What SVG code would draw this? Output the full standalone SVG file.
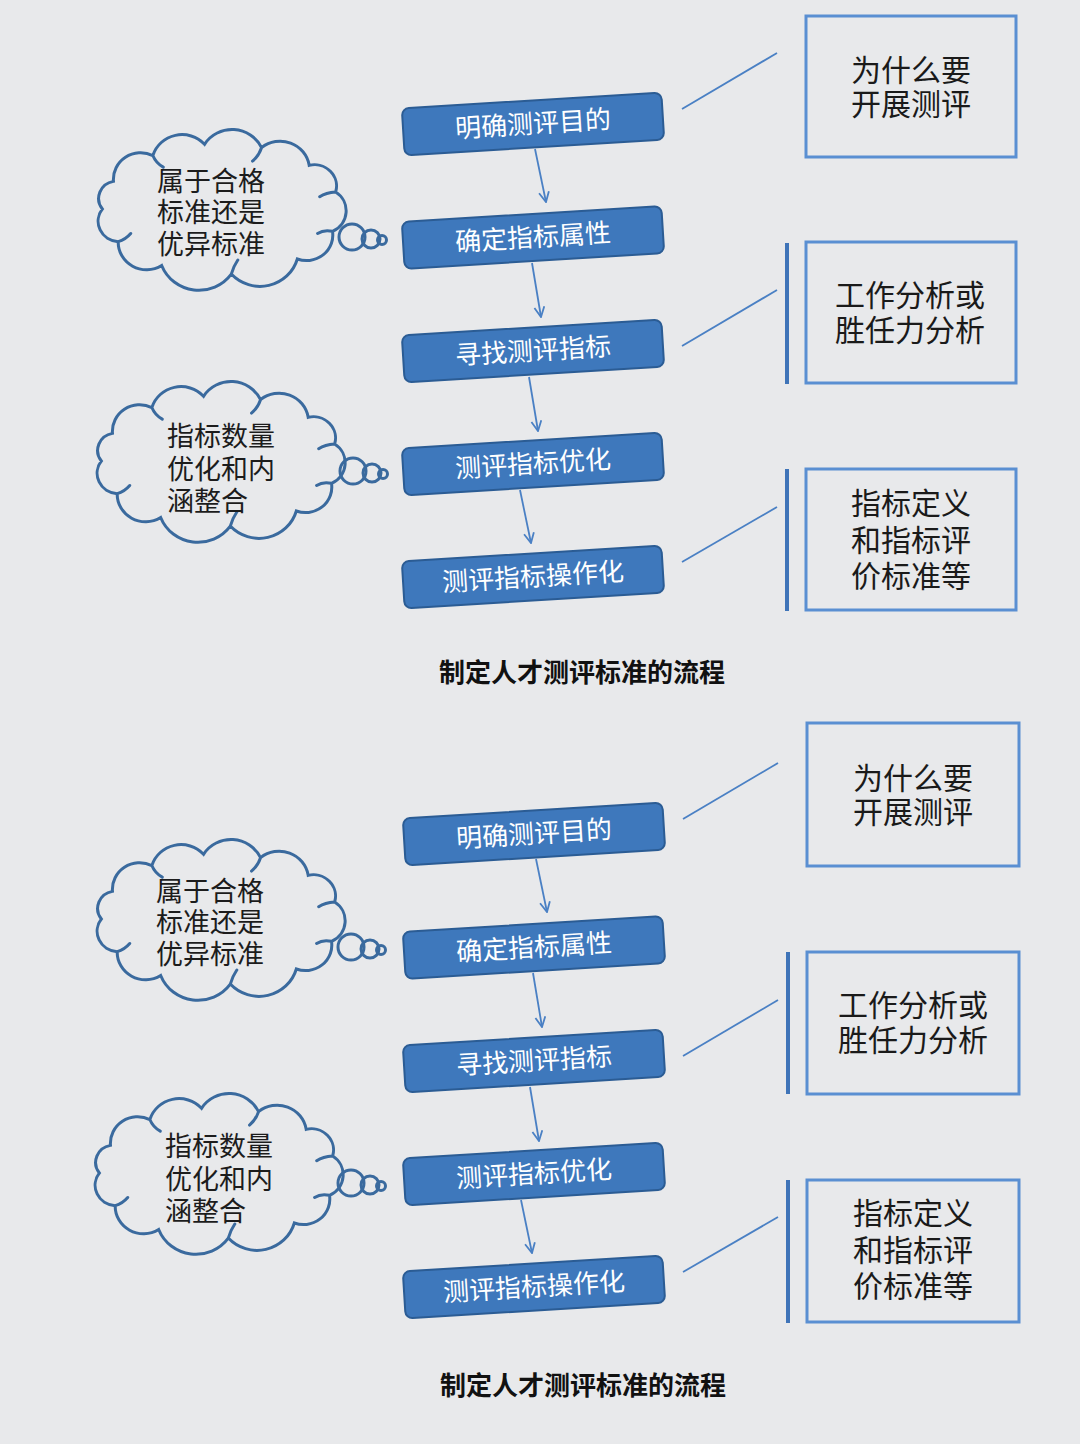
<svg xmlns="http://www.w3.org/2000/svg" xmlns:xlink="http://www.w3.org/1999/xlink" width="1080" height="1444" viewBox="0 0 1080 1444">
<style>
.cjk{font-family:"Noto Sans CJK SC","Noto Sans",sans-serif}
.step rect{fill:#3e78bc;stroke:#2b5c94;stroke-width:2}
.step text{fill:#ffffff;font-size:26px;text-anchor:middle}
.cloud circle{fill:none;stroke:#3a6a9e;stroke-width:3}
.cloud text{fill:#1c1c1c;font-size:27px}
.note rect{fill:none;stroke:#5a8fd2;stroke-width:3}
.note text{fill:#1a1a1a;font-size:30px;text-anchor:middle}
.bar{stroke:#3f74b8;stroke-width:4}
.conn line{stroke:#4a80c4;stroke-width:1.8;fill:none}
.title{fill:#111;font-size:26px;font-weight:bold;text-anchor:middle}
</style>
<defs>
<marker id="arr" viewBox="0 0 12 12" refX="11" refY="6" markerWidth="12" markerHeight="12" markerUnits="userSpaceOnUse" orient="auto">
<path d="M1,1 L11,6 L1,11" fill="none" stroke="#4a80c4" stroke-width="1.8"/>
</marker>
<path id="cloudShape" fill="none" stroke="#3a6a9e" stroke-width="3" stroke-linecap="round" vector-effect="non-scaling-stroke" d="M-113,0 A17,17 0 0 1 -102.4,-27.1 A26,26 0 0 1 -64.9,-52.4 A29,29 0 0 1 -15.7,-63.4 A31,31 0 0 1 38.6,-60.1 A28,28 0 0 1 84,-42.8 A21,21 0 0 1 109.2,-16.6 A22,22 0 0 1 106.2,21.9 A25,25 0 0 1 72.7,49 A37,37 0 0 1 9.8,63.8 A38,38 0 0 1 -56.5,55.4 A27,27 0 0 1 -97.9,32 A20,20 0 0 1 -113,0 Z M-64.9,-52.4 Q-62,-45 -55,-41 M38.6,-60.1 Q36,-52 30,-47 M109.2,-16.6 Q100,-16 94,-12 M106.2,21.9 Q98,20 92,24 M9.8,63.8 Q12,56 16,50 M-97.9,32 Q-91,30 -86,24"/>
</defs>
<rect x="0" y="0" width="1080" height="1444" fill="#e8e9eb"/>

<g id="top">
  <g id="top-connectors" class="conn">
    <line x1="535" y1="149" x2="546" y2="202" marker-end="url(#arr)"/>
    <line x1="532" y1="263" x2="541" y2="317" marker-end="url(#arr)"/>
    <line x1="529" y1="377" x2="538" y2="431" marker-end="url(#arr)"/>
    <line x1="520" y1="490" x2="531" y2="543" marker-end="url(#arr)"/>
    <line x1="682" y1="109" x2="777" y2="53"/>
    <line x1="682" y1="346" x2="777" y2="290"/>
    <line x1="682" y1="562" x2="777" y2="507"/>
  </g>
  <g id="top-cloud1" class="cloud">
    <g transform="translate(221,209)">
      <use xlink:href="#cloudShape" href="#cloudShape" transform="scale(1.05,1.02)"/>
      <circle cx="131" cy="28" r="13"/>
      <circle cx="150" cy="30" r="9"/>
      <circle cx="161" cy="31" r="4.5"/>
    </g>
    <text class="cjk"><tspan x="157" y="191">属于合格</tspan><tspan x="157" y="222">标准还是</tspan><tspan x="157" y="254">优异标准</tspan></text>
  </g>
  <g id="top-cloud2" class="cloud">
    <g transform="translate(220,461)">
      <use xlink:href="#cloudShape" href="#cloudShape" transform="scale(1.05,1.02)"/>
      <circle cx="133" cy="10" r="13"/>
      <circle cx="152" cy="12" r="9"/>
      <circle cx="163" cy="13" r="4.5"/>
    </g>
    <text class="cjk"><tspan x="167" y="446">指标数量</tspan><tspan x="167" y="479">优化和内</tspan><tspan x="167" y="511">涵整合</tspan></text>
  </g>
  <g id="top-step1" class="step" transform="rotate(-3.5 533 124)">
    <rect x="403" y="100.5" width="260" height="47" rx="7"/>
    <text class="cjk" x="533" y="133">明确测评目的</text>
  </g>
  <g id="top-step2" class="step" transform="rotate(-3.5 533 237.5)">
    <rect x="403" y="214" width="260" height="47" rx="7"/>
    <text class="cjk" x="533" y="246.5">确定指标属性</text>
  </g>
  <g id="top-step3" class="step" transform="rotate(-3.5 533 351)">
    <rect x="403" y="327.5" width="260" height="47" rx="7"/>
    <text class="cjk" x="533" y="360">寻找测评指标</text>
  </g>
  <g id="top-step4" class="step" transform="rotate(-3.5 533 464)">
    <rect x="403" y="440.5" width="260" height="47" rx="7"/>
    <text class="cjk" x="533" y="473">测评指标优化</text>
  </g>
  <g id="top-step5" class="step" transform="rotate(-3.5 533 577)">
    <rect x="403" y="553.5" width="260" height="47" rx="7"/>
    <text class="cjk" x="533" y="586">测评指标操作化</text>
  </g>
  <g id="top-note1" class="note">
    <rect x="806" y="16" width="210" height="141"/>
    <text class="cjk"><tspan x="911" y="81">为什么要</tspan><tspan x="911" y="115">开展测评</tspan></text>
  </g>
  <g id="top-note2" class="note">
    <line class="bar" x1="787" y1="243" x2="787" y2="384"/>
    <rect x="806" y="242" width="210" height="141"/>
    <text class="cjk"><tspan x="910" y="306">工作分析或</tspan><tspan x="910" y="341">胜任力分析</tspan></text>
  </g>
  <g id="top-note3" class="note">
    <line class="bar" x1="787" y1="469" x2="787" y2="611"/>
    <rect x="806" y="469" width="210" height="141"/>
    <text class="cjk"><tspan x="911" y="514">指标定义</tspan><tspan x="911" y="551">和指标评</tspan><tspan x="911" y="587">价标准等</tspan></text>
  </g>
  <text id="top-title" class="title cjk" x="582" y="682">制定人才测评标准的流程</text>
</g>

<g id="bottom" transform="translate(1,710)">
  <g id="bottom-connectors" class="conn">
    <line x1="535" y1="149" x2="546" y2="202" marker-end="url(#arr)"/>
    <line x1="532" y1="263" x2="541" y2="317" marker-end="url(#arr)"/>
    <line x1="529" y1="377" x2="538" y2="431" marker-end="url(#arr)"/>
    <line x1="520" y1="490" x2="531" y2="543" marker-end="url(#arr)"/>
    <line x1="682" y1="109" x2="777" y2="53"/>
    <line x1="682" y1="346" x2="777" y2="290"/>
    <line x1="682" y1="562" x2="777" y2="507"/>
  </g>
  <g id="bottom-cloud1" class="cloud">
    <g transform="translate(219,209)">
      <use xlink:href="#cloudShape" href="#cloudShape" transform="scale(1.05,1.02)"/>
      <circle cx="131" cy="28" r="13"/>
      <circle cx="150" cy="30" r="9"/>
      <circle cx="161" cy="31" r="4.5"/>
    </g>
    <text class="cjk"><tspan x="155" y="191">属于合格</tspan><tspan x="155" y="222">标准还是</tspan><tspan x="155" y="254">优异标准</tspan></text>
  </g>
  <g id="bottom-cloud2" class="cloud">
    <g transform="translate(217,463)">
      <use xlink:href="#cloudShape" href="#cloudShape" transform="scale(1.05,1.02)"/>
      <circle cx="133" cy="10" r="13"/>
      <circle cx="152" cy="12" r="9"/>
      <circle cx="163" cy="13" r="4.5"/>
    </g>
    <text class="cjk"><tspan x="164" y="446">指标数量</tspan><tspan x="164" y="479">优化和内</tspan><tspan x="164" y="511">涵整合</tspan></text>
  </g>
  <g id="bottom-step1" class="step" transform="rotate(-3.5 533 124)">
    <rect x="403" y="100.5" width="260" height="47" rx="7"/>
    <text class="cjk" x="533" y="133">明确测评目的</text>
  </g>
  <g id="bottom-step2" class="step" transform="rotate(-3.5 533 237.5)">
    <rect x="403" y="214" width="260" height="47" rx="7"/>
    <text class="cjk" x="533" y="246.5">确定指标属性</text>
  </g>
  <g id="bottom-step3" class="step" transform="rotate(-3.5 533 351)">
    <rect x="403" y="327.5" width="260" height="47" rx="7"/>
    <text class="cjk" x="533" y="360">寻找测评指标</text>
  </g>
  <g id="bottom-step4" class="step" transform="rotate(-3.5 533 464)">
    <rect x="403" y="440.5" width="260" height="47" rx="7"/>
    <text class="cjk" x="533" y="473">测评指标优化</text>
  </g>
  <g id="bottom-step5" class="step" transform="rotate(-3.5 533 577)">
    <rect x="403" y="553.5" width="260" height="47" rx="7"/>
    <text class="cjk" x="533" y="586">测评指标操作化</text>
  </g>
  <g id="bottom-note1" class="note">
    <rect x="806" y="13" width="212" height="143"/>
    <text class="cjk"><tspan x="912" y="79">为什么要</tspan><tspan x="912" y="113">开展测评</tspan></text>
  </g>
  <g id="bottom-note2" class="note">
    <line class="bar" x1="787" y1="242" x2="787" y2="384"/>
    <rect x="806" y="242" width="212" height="142"/>
    <text class="cjk"><tspan x="912" y="306">工作分析或</tspan><tspan x="912" y="341">胜任力分析</tspan></text>
  </g>
  <g id="bottom-note3" class="note">
    <line class="bar" x1="787" y1="470" x2="787" y2="613"/>
    <rect x="806" y="470" width="212" height="142"/>
    <text class="cjk"><tspan x="912" y="514">指标定义</tspan><tspan x="912" y="551">和指标评</tspan><tspan x="912" y="587">价标准等</tspan></text>
  </g>
  <text id="bottom-title" class="title cjk" x="582" y="685">制定人才测评标准的流程</text>
</g>
</svg>
